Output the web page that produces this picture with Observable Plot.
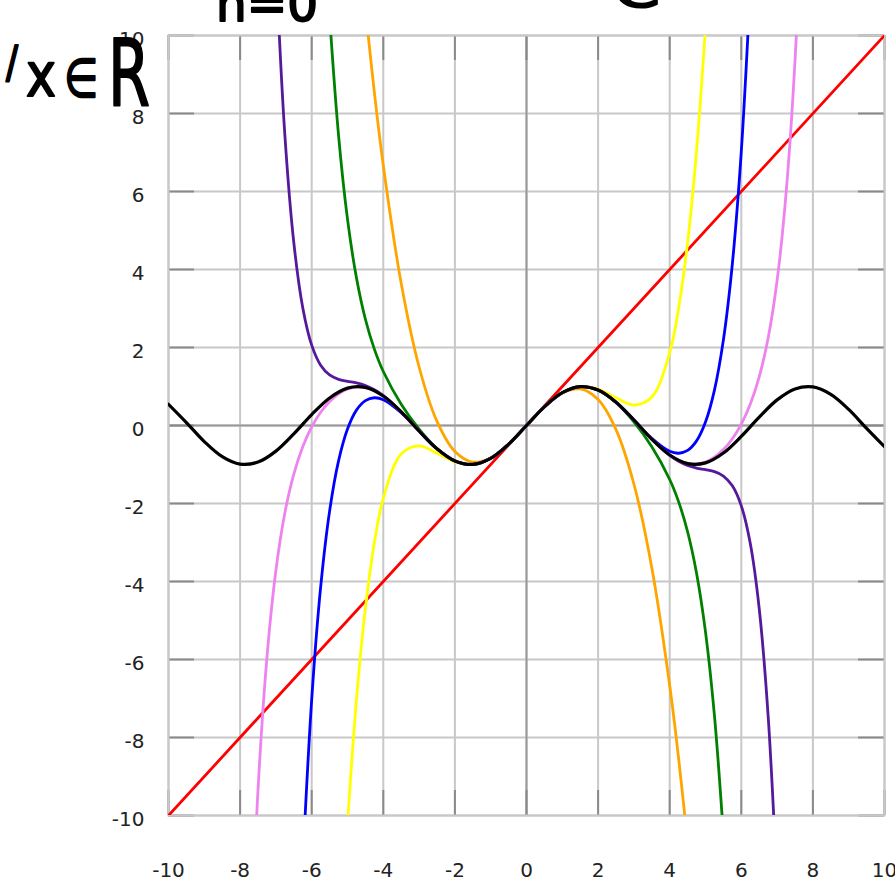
<!DOCTYPE html>
<html>
<head>
<meta charset="utf-8">
<script src="https://cdn.jsdelivr.net/npm/d3@7"></script>
<script src="https://cdn.jsdelivr.net/npm/@observablehq/plot@0.6"></script>
<style>
  html, body { margin: 0; padding: 0; background: #fff; }
  #wrap { position: relative; width: 895px; height: 882px; overflow: hidden; }
  #hw { position: absolute; left: 0; top: 0; pointer-events: none; }
</style>
</head>
<body>
<div id="wrap"></div>
<script>
// Tick values
const xTicks = [-10, -8, -6, -4, -2, 0, 2, 4, 6, 8, 10];
const yTicks = [-10, -8, -6, -4, -2, 0, 2, 4, 6, 8, 10];

// sin(x) (black)
const sinPts = [[-10,0.544],[-9.5,0.075],[-9,-0.412],[-8.5,-0.798],[-8,-0.989],[-7.5,-0.938],[-7,-0.657],[-6.5,-0.215],[-6,0.279],[-5.5,0.706],[-5,0.959],[-4.5,0.978],[-4,0.757],[-3.5,0.351],[-3,-0.141],[-2.5,-0.598],[-2,-0.909],[-1.5,-0.997],[-1,-0.841],[-0.5,-0.479],[0,0],[0.5,0.479],[1,0.841],[1.5,0.997],[2,0.909],[2.5,0.598],[3,0.141],[3.5,-0.351],[4,-0.757],[4.5,-0.978],[5,-0.959],[5.5,-0.706],[6,-0.279],[6.5,0.215],[7,0.657],[7.5,0.938],[8,0.989],[8.5,0.798],[9,0.412],[9.5,-0.075],[10,-0.544]];

// Taylor polynomials
const deg1 = [[-10,-10],[10,10]];
const deg3 = [[-4.5,10.688],[-4.25,8.544],[-4,6.667],[-3.5,3.646],[-3,1.5],[-2.5,0.104],[-2,-0.667],[-1.5,-0.938],[-1,-0.833],[-0.5,-0.479],[0,0],[0.5,0.479],[1,0.833],[1.5,0.938],[2,0.667],[2.5,-0.104],[3,-1.5],[3.5,-3.646],[4,-6.667],[4.25,-8.544],[4.5,-10.688]];
const deg5 = [[-5,-10.208],[-4.75,-7.038],[-4.5,-4.690],[-4.25,-3.011],[-4,-1.867],[-3.5,-0.731],[-3,-0.525],[-2.5,-0.710],[-2,-0.933],[-1.5,-1.001],[-1,-0.842],[-0.5,-0.479],[0,0],[0.5,0.479],[1,0.842],[1.5,1.001],[2,0.933],[2.5,0.710],[3,0.525],[3.5,0.731],[4,1.867],[4.25,3.011],[4.5,4.690],[4.75,7.038],[5,10.208]];
const deg7 = [[-5.5,10.496],[-5.25,7.442],[-5,5.293],[-4.75,3.787],[-4.5,2.724],[-4.25,1.958],[-4,1.384],[-3.5,0.546],[-3,-0.091],[-2.5,-0.589],[-2,-0.908],[-1.5,-0.997],[-1,-0.841],[-0.5,-0.479],[0,0],[0.5,0.479],[1,0.841],[1.5,0.997],[2,0.908],[2.5,0.589],[3,0.091],[3.5,-0.546],[4,-1.384],[4.25,-1.958],[4.5,-2.724],[4.75,-3.787],[5,-5.293],[5.25,-7.442],[5.5,-10.496]];
const deg9 = [[-6.25,-11.219],[-6,-7.029],[-5.75,-4.145],[-5.5,-2.195],[-5.25,-0.908],[-5,-0.090],[-4.75,0.395],[-4.5,0.639],[-4.25,0.711],[-4,0.662],[-3.5,0.328],[-3,-0.145],[-2.5,-0.599],[-2,-0.909],[-1.5,-0.997],[-1,-0.841],[-0.5,-0.479],[0,0],[0.5,0.479],[1,0.841],[1.5,0.997],[2,0.909],[2.5,0.599],[3,0.145],[3.5,-0.328],[4,-0.662],[4.25,-0.711],[4.5,-0.639],[4.75,-0.395],[5,0.090],[5.25,0.908],[5.5,2.195],[5.75,4.145],[6,7.029],[6.25,11.219]];
const deg11 = [[-7,11.842],[-6.75,7.453],[-6.5,4.692],[-6.25,3.021],[-6,2.060],[-5.75,1.546],[-5.5,1.295],[-5.25,1.184],[-5,1.134],[-4.75,1.091],[-4.5,1.023],[-4.25,0.916],[-4,0.767],[-3.5,0.353],[-3,-0.141],[-2.5,-0.598],[-2,-0.909],[-1.5,-0.997],[-1,-0.841],[-0.5,-0.479],[0,0],[0.5,0.479],[1,0.841],[1.5,0.997],[2,0.909],[2.5,0.598],[3,0.141],[3.5,-0.353],[4,-0.767],[4.25,-0.916],[4.5,-1.023],[4.75,-1.091],[5,-1.134],[5.25,-1.184],[5.5,-1.295],[5.75,-1.546],[6,-2.060],[6.25,-3.021],[6.5,-4.692],[6.75,-7.453],[7,-11.842]];
const deg13 = [[-7.75,-14.583],[-7.5,-9.350],[-7.25,-5.944],[-7,-3.717],[-6.75,-2.244],[-6.5,-1.245],[-6.25,-0.545],[-6,-0.037],[-5.75,0.340],[-5.5,0.618],[-5.25,0.814],[-5,0.938],[-4.75,0.990],[-4.5,0.973],[-4.25,0.892],[-4,0.756],[-3.5,0.351],[-3,-0.141],[-2.5,-0.599],[-2,-0.909],[-1.5,-0.998],[-1,-0.841],[-0.5,-0.479],[0,0],[0.5,0.479],[1,0.841],[1.5,0.998],[2,0.909],[2.5,0.599],[3,0.141],[3.5,-0.351],[4,-0.756],[4.25,-0.892],[4.5,-0.973],[4.75,-0.990],[5,-0.938],[5.25,-0.814],[5.5,-0.618],[5.75,-0.340],[6,0.037],[6.25,0.545],[6.5,1.245],[6.75,2.244],[7,3.717],[7.25,5.944],[7.5,9.350],[7.75,14.583]];

const seriesNames = ["T1", "T3", "T5", "T7", "T9", "T11", "T13", "sin"];
const seriesColors = ["#ff0000", "#ffa500", "#ffff00", "#008000", "#0000ff", "#551a9c", "#ee82ee", "#000000"];
const seriesPts = [deg1, deg3, deg5, deg7, deg9, deg11, deg13, sinPts];

const lineMarks = seriesPts.map((pts, i) =>
  Plot.line(pts.map(([x, y]) => ({x, y})), {
    x: "x", y: "y",
    stroke: seriesColors[i],
    strokeWidth: seriesNames[i] === "sin" ? 3.2 : 2.8,
    curve: "catmull-rom",
    clip: true
  })
);

const chart = Plot.plot({
  width: 895,
  height: 882,
  marginLeft: 168,
  marginRight: 11,
  marginTop: 35,
  marginBottom: 67,
  style: { fontFamily: "DejaVu Sans", fontSize: "20px", color: "#222", background: "#fff" },
  x: { domain: [-10, 10] },
  y: { domain: [-10, 10] },
  marks: [
    Plot.ruleX(xTicks, { stroke: "#c8c8c8", strokeWidth: 2 }),
    Plot.ruleY(yTicks, { stroke: "#c8c8c8", strokeWidth: 2 }),
    Plot.ruleX([0], { stroke: "#9a9a9a", strokeWidth: 2 }),
    Plot.ruleY([0], { stroke: "#9a9a9a", strokeWidth: 2 }),
    Plot.ruleX(xTicks, { stroke: "#8a8a8a", strokeWidth: 2, insetTop: 755 }),
    Plot.ruleX(xTicks, { stroke: "#8a8a8a", strokeWidth: 2, insetBottom: 755 }),
    Plot.ruleY(yTicks, { stroke: "#8a8a8a", strokeWidth: 2, insetRight: 690 }),
    Plot.ruleY(yTicks, { stroke: "#8a8a8a", strokeWidth: 2, insetLeft: 690 }),
    Plot.frame({ stroke: "#c8c8c8", strokeWidth: 2 }),
    Plot.axisX({ ticks: xTicks, tickSize: 0, tickPadding: 47, label: null, tickFormat: d => String(d) }),
    Plot.axisY({ ticks: yTicks, tickSize: 0, tickPadding: 24, dy: 4, label: null, tickFormat: d => String(d) }),
    ...lineMarks
  ]
});

// enforce tick label font
chart.querySelectorAll("text").forEach(t => {
  t.style.fontSize = "20px";
  t.style.fontFamily = "DejaVu Sans";
  t.style.fill = "#222";
});

const wrap = document.getElementById("wrap");
wrap.appendChild(chart);

// handwritten annotations (overlay text)
const ns = "http://www.w3.org/2000/svg";
const hw = document.createElementNS(ns, "svg");
hw.setAttribute("id", "hw");
hw.setAttribute("width", 895);
hw.setAttribute("height", 882);
const notes = [
  { t: "/", x: 6, y: 78, s: 44, w: 12 },
  { t: "x", x: 26, y: 96, s: 60, w: 30 },
  { t: "\u2208", x: 64, y: 97, s: 54, w: 34 },
  { t: "R", x: 108, y: 106, s: 92, w: 42 },
  { t: "n=0", x: 216, y: 21, s: 50, w: 102 },
  { t: "C", x: 614, y: 7, s: 46, w: 46 }
];
for (const n of notes) {
  const el = document.createElementNS(ns, "text");
  el.setAttribute("x", n.x);
  el.setAttribute("y", n.y);
  el.setAttribute("font-family", "DejaVu Sans");
  el.setAttribute("font-size", n.s);
  el.setAttribute("textLength", n.w);
  el.setAttribute("lengthAdjust", "spacingAndGlyphs");
  el.setAttribute("fill", "#000");
  el.setAttribute("stroke", "#000");
  el.setAttribute("stroke-width", 2);
  el.setAttribute("stroke-linejoin", "round");
  el.textContent = n.t;
  hw.appendChild(el);
}
wrap.appendChild(hw);
</script>
</body>
</html>
